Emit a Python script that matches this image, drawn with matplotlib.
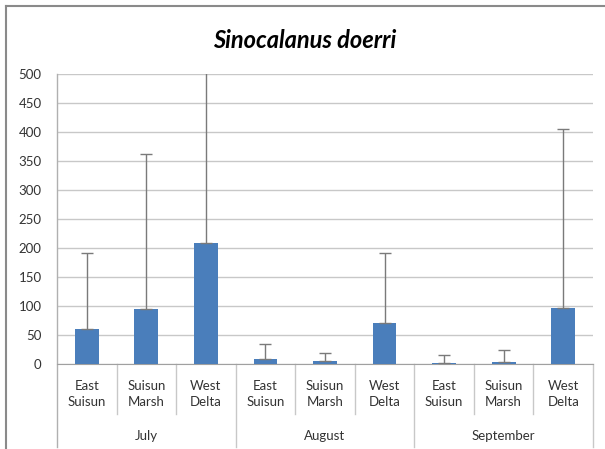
import matplotlib
matplotlib.use("Agg")
import matplotlib.pyplot as plt
import numpy as np
from matplotlib.lines import Line2D

plt.rcParams['font.family'] = ['Lato', 'DejaVu Sans']

months = ['July', 'August', 'September']
sites = ['East\nSuisun', 'Suisun\nMarsh', 'West\nDelta']
means = [60, 95, 208, 8, 5, 70, 2, 4, 97]
err_plus = [131, 267, 330, 27, 14, 122, 13, 21, 309]

W, H = 605, 449
fig = plt.figure(figsize=(W / 100, H / 100), dpi=100)
x0, x1, y0, y1 = 57, 593, 74, 364
ax = fig.add_axes([x0 / W, 1 - y1 / H, (x1 - x0) / W, (y1 - y0) / H])

n = len(means)
x = np.arange(n)
ax.bar(x, means, width=0.4, color='#4a7ebb', zorder=3)
ax.errorbar(x, means, yerr=[np.zeros(n), err_plus], fmt='none',
            ecolor='#7a7a7a', elinewidth=1, capsize=4, capthick=1, zorder=4)

ax.set_xlim(-0.5, n - 0.5)
ax.set_ylim(0, 500)
ax.set_yticks(np.arange(0, 501, 50))
ax.yaxis.grid(True, color='#c8c8c8', linewidth=1)
ax.set_axisbelow(True)
for side in ['top', 'right', 'left']:
    ax.spines[side].set_visible(False)
ax.spines['bottom'].set_color('#a0a0a0')
ax.tick_params(axis='y', length=0, pad=11, labelsize=9.5, labelcolor='#333333')
ax.set_xticks([])

# axis line on the left running down through the category rows
ph = y1 - y0
def fy(px):
    return -(px - y1) / ph

ax.add_line(Line2D([-0.5, -0.5], [1, fy(447)], color='#b0b0b0', lw=1,
                   transform=ax.get_xaxis_transform(), clip_on=False))

# two-level category axis: sites, then months
for i in range(n):
    ax.text(x[i], fy(394), sites[i % 3], ha='center', va='center',
            fontsize=9.5, color='#333333', linespacing=1.35,
            transform=ax.get_xaxis_transform())
for i in range(1, n + 1):
    bottom = 447 if i % 3 == 0 else 414
    ax.add_line(Line2D([i - 0.5, i - 0.5], [0, fy(bottom)], color='#c8c8c8',
                       lw=1, transform=ax.get_xaxis_transform(), clip_on=False))
for j, m in enumerate(months):
    ax.text(3 * j + 1, fy(436), m, ha='center', va='center', fontsize=9.5,
            color='#333333', transform=ax.get_xaxis_transform())

fig.text(305 / W, 1 - 40 / H, 'Sinocalanus doerri', ha='center', va='center',
         fontsize=17, fontweight='bold', fontstyle='italic', color='black')

# chart frame
fig.add_artist(Line2D([6 / W, 1], [1 - 6 / H, 1 - 6 / H], color='#8a8a8a',
                      lw=1.5, transform=fig.transFigure))
fig.add_artist(Line2D([6 / W, 6 / W], [0, 1 - 6 / H], color='#8a8a8a',
                      lw=1.5, transform=fig.transFigure))

fig.savefig('out.png', dpi=100)
